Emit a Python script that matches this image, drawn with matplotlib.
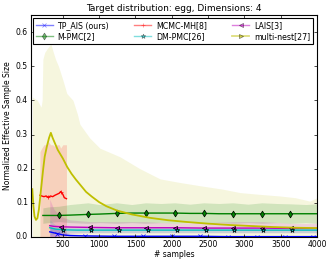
import numpy as np
import matplotlib
matplotlib.use('Agg')
import matplotlib.pyplot as plt

# multi-nest[27]
mn_x = [80, 95, 110, 130, 150, 170, 190, 210, 230, 250, 280, 310, 335, 360, 400, 430, 500, 560, 620,
        680, 750, 820, 900, 1000, 1100, 1250, 1450, 1700, 1950, 2200, 2500, 2800, 3100, 3400, 3700, 4000]
mn_mean = [0.14, 0.09, 0.06, 0.05, 0.055, 0.08, 0.12, 0.16, 0.20, 0.235, 0.265, 0.29, 0.305, 0.29, 0.27,
           0.255, 0.23, 0.205, 0.185, 0.168, 0.15, 0.132, 0.118, 0.102, 0.09, 0.077, 0.066, 0.056, 0.049,
           0.044, 0.039, 0.035, 0.032, 0.029, 0.027, 0.026]
mn_up_x = [80, 150, 200, 215, 225, 250, 280, 335, 370, 400, 440, 470, 500, 555, 640, 700, 735, 870,
           1010, 1285, 1560, 1840, 2100, 2390, 2700, 2940, 3200, 3490, 3700, 3900, 4000]
mn_up = [0.41, 0.40, 0.38, 0.40, 0.52, 0.54, 0.55, 0.565, 0.54, 0.52, 0.50, 0.48, 0.46, 0.42, 0.40,
         0.36, 0.33, 0.29, 0.26, 0.235, 0.20, 0.17, 0.16, 0.15, 0.14, 0.13, 0.125, 0.12, 0.115, 0.105, 0.115]

# MCMC-MH[8]
mh_x = [185, 210, 240, 270, 300, 330, 360, 390, 420, 450, 470, 500, 520, 550]
mh_mean = [0.122, 0.12, 0.118, 0.12, 0.116, 0.12, 0.118, 0.122, 0.125, 0.128, 0.133, 0.125, 0.115, 0.112]
mh_up = [0.25, 0.26, 0.27, 0.27, 0.28, 0.27, 0.27, 0.265, 0.27, 0.27, 0.26, 0.27, 0.27, 0.27]
mh_lo = [0.0] * 14

# M-PMC[2]
mp_x = [225, 300, 445, 600, 845, 1000, 1240, 1450, 1640, 1850, 2040, 2250, 2440, 2650, 2840, 3050,
        3240, 3450, 3630, 3850, 4000]
mp_mean = [0.063, 0.063, 0.063, 0.064, 0.066, 0.067, 0.069, 0.07, 0.07, 0.07, 0.07, 0.069, 0.069,
           0.068, 0.068, 0.068, 0.068, 0.068, 0.068, 0.068, 0.068]
mp_up = [0.085, 0.088, 0.09, 0.095, 0.1, 0.095, 0.1, 0.095, 0.1, 0.098, 0.1, 0.096, 0.1, 0.098, 0.1,
         0.096, 0.1, 0.098, 0.097, 0.095, 0.097]
mp_lo = [0.04, 0.042, 0.045, 0.042, 0.04, 0.042, 0.04, 0.042, 0.04, 0.042, 0.04, 0.042, 0.04, 0.042,
         0.04, 0.042, 0.04, 0.042, 0.04, 0.042, 0.04]
mp_marks = [445, 845, 1240, 1640, 2040, 2440, 2840, 3240, 3630]

# LAIS[3]
la_x = [320, 380, 470, 600, 870, 1240, 1640, 2040, 2440, 2840, 3240, 3640, 4000]
la_mean = [0.033, 0.031, 0.03, 0.029, 0.028, 0.027, 0.027, 0.027, 0.026, 0.026, 0.026, 0.025, 0.025]
la_up = [0.11, 0.08, 0.06, 0.05, 0.045, 0.045, 0.045, 0.04, 0.042, 0.045, 0.045, 0.04, 0.04]
la_lo = [0.0, 0.0, 0.005, 0.01, 0.012, 0.012, 0.012, 0.012, 0.012, 0.012, 0.012, 0.012, 0.012]
la_marks = [470, 870, 1240, 1640, 2040, 2440, 2840, 3240, 3640]

# DM-PMC[26]
dm_x = [320, 400, 500, 700, 885, 1270, 1670, 2070, 2470, 2860, 3260, 3660, 4000]
dm_mean = [0.027, 0.023, 0.021, 0.02, 0.02, 0.02, 0.02, 0.02, 0.02, 0.02, 0.02, 0.02, 0.02]
dm_up = [0.05, 0.035, 0.03, 0.028, 0.028, 0.028, 0.028, 0.028, 0.028, 0.028, 0.028, 0.028, 0.028]
dm_lo = [0.005, 0.01, 0.012, 0.013, 0.013, 0.013, 0.013, 0.013, 0.013, 0.013, 0.013, 0.013, 0.013]
dm_marks = [500, 885, 1270, 1670, 2070, 2470, 2860, 3260, 3660]

# TP_AIS (ours)
tp_x = [320, 360, 420, 460, 500, 600, 810, 1210, 1600, 2000, 2390, 2780, 3170, 3560, 3950, 4000]
tp_mean = [0.015, 0.013, 0.01, 0.008, 0.006, 0.004, 0.003, 0.002, 0.002, 0.002, 0.002, 0.001, 0.001,
           0.001, 0.001, 0.001]
tp_up = [0.03, 0.028, 0.024, 0.02, 0.015, 0.01, 0.006, 0.005, 0.005, 0.005, 0.005, 0.004, 0.004,
         0.004, 0.004, 0.004]
tp_lo = [0.0] * 16
tp_marks = [420, 810, 1210, 1600, 2000, 2390, 2780, 3170, 3560, 3950]

plt.style.use('classic')
plt.rcParams['figure.facecolor'] = 'white'
plt.rcParams['savefig.facecolor'] = 'white'
plt.rcParams['font.size'] = 5.5

fig = plt.figure(figsize=(3.32, 2.63), dpi=100)
ax = fig.add_axes([0.093, 0.099, 0.862, 0.844])


def marks_idx(x, marks):
    return [i for i, v in enumerate(x) if v in marks]


# bands
ax.fill_between(mn_up_x, 0, mn_up, color='y', alpha=0.13, lw=0)
ax.fill_between(mh_x, mh_lo, mh_up, color='r', alpha=0.15, lw=0)
ax.fill_between(mp_x, mp_lo, mp_up, color='g', alpha=0.15, lw=0)
ax.fill_between(la_x, la_lo, la_up, color='m', alpha=0.15, lw=0)
ax.fill_between(dm_x, dm_lo, dm_up, color='c', alpha=0.15, lw=0)
ax.fill_between(tp_x, tp_lo, tp_up, color='b', alpha=0.15, lw=0)

ax.plot(tp_x, tp_mean, 'b-', marker='x', ms=3, lw=1, markevery=marks_idx(tp_x, tp_marks),
        label='TP_AIS (ours)')
ax.plot(mh_x, mh_mean, 'r-', marker='+', ms=3, lw=1, markevery=[4, 10], label='MCMC-MH[8]')
ax.plot(la_x, la_mean, 'm-', marker='<', ms=3, lw=1, markevery=marks_idx(la_x, la_marks),
        label='LAIS[3]')
ax.plot(mp_x, mp_mean, 'g-', marker='d', ms=3.5, lw=1, markevery=marks_idx(mp_x, mp_marks),
        label='M-PMC[2]')
ax.plot(dm_x, dm_mean, 'c-', marker='*', ms=3.5, lw=1, markevery=marks_idx(dm_x, dm_marks),
        label='DM-PMC[26]')
ax.plot(mn_x, mn_mean, 'y-', marker='>', ms=3, lw=1.3, markevery=[], label='multi-nest[27]')

ax.set_xlim(60, 4000)
ax.set_ylim(0, 0.65)
ax.set_xticks([500, 1000, 1500, 2000, 2500, 3000, 3500, 4000])
ax.set_yticks([0.0, 0.1, 0.2, 0.3, 0.4, 0.5, 0.6])
ax.tick_params(labelsize=5.5, length=2.5, width=0.5, pad=2)
for s in ax.spines.values():
    s.set_linewidth(0.8)

ax.set_title('Target distribution: egg, Dimensions: 4', fontsize=6.5, pad=3)
ax.set_xlabel('# samples', fontsize=5.5, labelpad=1)
ax.set_ylabel('Normalized Effective Sample Size', fontsize=5.5, labelpad=3)

# row-wise legend order in 3 columns
handles, labels = ax.get_legend_handles_labels()
order = [0, 3, 1, 4, 2, 5]
leg = ax.legend([handles[i] for i in order], [labels[i] for i in order],
                loc='upper left', bbox_to_anchor=(0.007, 0.986), ncol=3, fontsize=5.7,
                numpoints=1, handlelength=2.15, handletextpad=0.6, borderpad=0.35,
                labelspacing=0.3, columnspacing=3.2, borderaxespad=0, fancybox=False)
leg.get_frame().set_linewidth(0.8)
for h in leg.legend_handles:
    h.set_alpha(0.5)

fig.savefig('out.png', dpi=100)
